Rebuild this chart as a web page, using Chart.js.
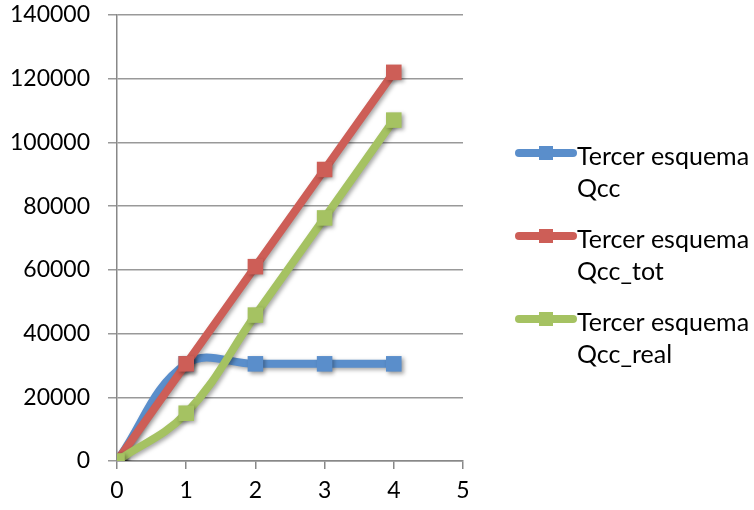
<!DOCTYPE html>
<html>
<head>
<meta charset="utf-8">
<script src="https://cdn.jsdelivr.net/npm/chart.js@4/dist/chart.umd.min.js"></script>
<style>
  html, body { margin: 0; padding: 0; background: #fff; }
  #wrap { position: relative; width: 754px; height: 510px; }
</style>
</head>
<body>
<div id="wrap"><canvas id="c" width="754" height="510"></canvas></div>
<script>
// Heat flow series for the third scheme
const xValues = [0, 1, 2, 3, 4];
const qcc = [0, 30500, 30500, 30500, 30500];
const qccTot = [0, 30500, 61000, 91500, 122000];
const qccReal = [0, 15000, 45800, 76300, 107000];
const seriesNames = [
  ['Tercer esquema', 'Qcc'],
  ['Tercer esquema', 'Qcc_tot'],
  ['Tercer esquema', 'Qcc_real']
];
const colors = ['#5A8ECB', '#CD5E57', '#A5C262'];
const FONT = 'Lato, "Open Sans", sans-serif';

const toPoints = arr => xValues.map((x, i) => ({ x, y: arr[i] }));

function ds(label, data, color, order) {
  return {
    label, data: toPoints(data), order,
    borderColor: color, backgroundColor: color,
    borderWidth: 8, borderCapStyle: 'round', borderJoinStyle: 'round',
    pointStyle: 'rect', pointRadius: 11, pointHoverRadius: 11,
    pointBorderWidth: 0, tension: 0.4, cubicInterpolationMode: 'default'
  };
}

// soft drop shadow under lines and markers
const shadowPlugin = {
  id: 'shadow',
  beforeDatasetDraw(chart) {
    const ctx = chart.ctx;
    ctx.save();
    ctx.shadowColor = 'rgba(0,0,0,0.35)';
    ctx.shadowBlur = 4;
    ctx.shadowOffsetX = 2;
    ctx.shadowOffsetY = 2;
  },
  afterDatasetDraw(chart) { chart.ctx.restore(); }
};

// legend on the right with two-line entries
const sideLegend = {
  id: 'sideLegend',
  afterDraw(chart) {
    const ctx = chart.ctx;
    const rows = [153, 236, 319];
    ctx.save();
    rows.forEach((y, i) => {
      ctx.strokeStyle = colors[i];
      ctx.fillStyle = colors[i];
      ctx.lineWidth = 8;
      ctx.lineCap = 'round';
      ctx.beginPath();
      ctx.moveTo(519, y);
      ctx.lineTo(573, y);
      ctx.stroke();
      ctx.fillRect(539, y - 7, 14, 14);
      ctx.fillStyle = '#000';
      ctx.font = '25px ' + FONT;
      ctx.textBaseline = 'middle';
      ctx.textAlign = 'left';
      ctx.fillText(seriesNames[i][0], 577, y + 4);
      ctx.fillText(seriesNames[i][1], 577, y + 36);
    });
    ctx.restore();
  }
};

const plain = v => String(v);

new Chart(document.getElementById('c'), {
  type: 'line',
  data: {
    datasets: [
      ds(seriesNames[0].join(' '), qcc, colors[0], 2),
      ds(seriesNames[1].join(' '), qccTot, colors[1], 1),
      ds(seriesNames[2].join(' '), qccReal, colors[2], 0)
    ]
  },
  options: {
    responsive: false,
    animation: false,
    layout: { padding: { left: 0, right: 291, top: 15, bottom: 0 } },
    plugins: { legend: { display: false }, tooltip: { enabled: false } },
    scales: {
      x: {
        type: 'linear', min: 0, max: 5,
        ticks: { stepSize: 1, color: '#000', font: { family: FONT, size: 23 }, padding: 8, callback: plain },
        grid: { display: true, drawOnChartArea: false, drawTicks: true, tickLength: 8, color: '#888', lineWidth: 1.5 },
        border: { display: true, color: '#888', width: 1.5 },
        afterFit(s) { s.height = 49; s.paddingLeft = 0; s.paddingRight = 0; }
      },
      y: {
        min: 0, max: 140000,
        ticks: { stepSize: 20000, color: '#000', font: { family: FONT, size: 23 }, padding: 18, callback: plain },
        grid: { color: '#999', lineWidth: 1.5, tickLength: 9 },
        border: { display: true, color: '#888', width: 1.5 },
        afterFit(s) { s.width = 117; s.paddingTop = 0; s.paddingBottom = 0; }
      }
    }
  },
  plugins: [shadowPlugin, sideLegend]
});
</script>
</body>
</html>
